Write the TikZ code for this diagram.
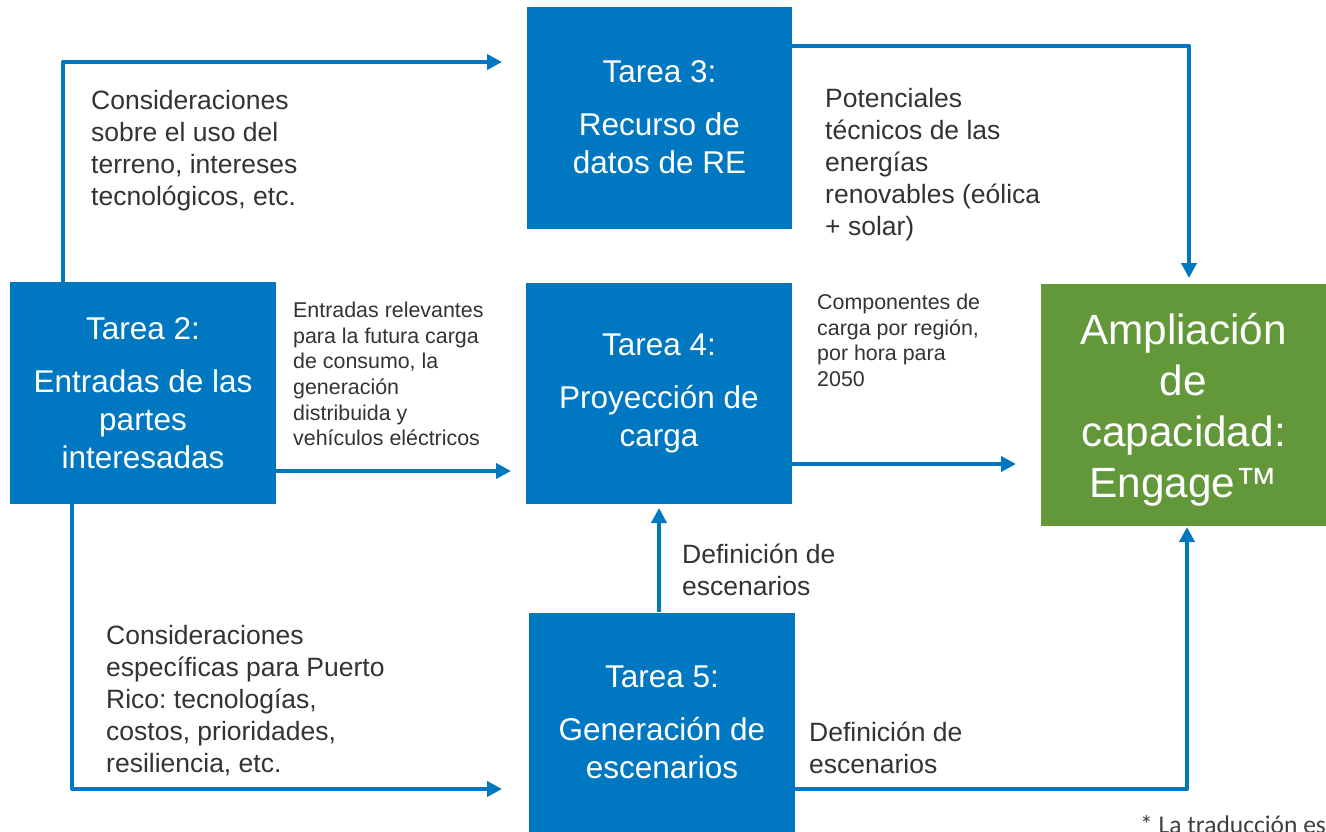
\documentclass[tikz,border=0pt]{standalone}
\usepackage{fontspec}
\setmainfont{Liberation Sans}
\newfontfamily\notefont{Carlito}
\usetikzlibrary{arrows.meta}
\definecolor{taskblue}{HTML}{0078C1}
\definecolor{engreen}{HTML}{62973A}
\definecolor{labelgray}{HTML}{333333}
\definecolor{notegray}{HTML}{404040}
\frenchspacing
\begin{document}
\frenchspacing
\begin{tikzpicture}[x=1pt,y=-1pt,
  taskbox/.style={fill=taskblue, draw=none, text=white, align=center, inner sep=0pt,
    font=\fontsize{31.5}{38}\selectfont},
  engbox/.style={fill=engreen, draw=none, inner sep=0pt},
  engtext/.style={text=white, align=center, inner sep=0pt,
    font=\fontsize{42.3}{51}\selectfont},
  biglabel/.style={anchor=north west, inner sep=0pt, align=left, text=labelgray,
    font=\fontsize{26.5}{32}\selectfont},
  smalllabel/.style={anchor=north west, inner sep=0pt, align=left, text=labelgray,
    font=\fontsize{21.4}{25.6}\selectfont},
  arr/.style={draw=taskblue, line width=4pt, line join=round,
    -{Triangle[length=15pt,width=15pt]}}
]
\clip (0,0) rectangle (1326,831);
\fill[white] (0,0) rectangle (1326,831);

% task boxes
\node[taskbox, minimum width=265pt, minimum height=222pt] (t3) at (659.5,117.5)
  {Tarea 3:\\[15pt]Recurso de\\datos de RE};
\node[taskbox, minimum width=266pt, minimum height=222pt] (t2) at (143,393)
  {Tarea 2:\\[15pt]Entradas de las\\partes\\interesadas};
\node[taskbox, minimum width=266pt, minimum height=221pt] (t4) at (659,393)
  {Tarea 4:\\[15pt]Proyecci\'on de\\carga};
\node[taskbox, minimum width=266pt, minimum height=220pt] (t5) at (662,722.5)
  {Tarea 5:\\[15pt]Generaci\'on de\\escenarios};
\node[engbox, minimum width=285pt, minimum height=242pt] (eng) at (1183.5,405) {};
\node[engtext] (engt) at (1183.5,410) {Ampliaci\'on\\de\\capacidad:\\Engage™};

% coordinates for connector bends and free ends
\coordinate (k1) at (63,62);
\coordinate (e1) at (502,62);
\coordinate (k2) at (1189,46);
\coordinate (e2) at (1189,278);
\coordinate (e3) at (511,471);
\coordinate (e4) at (1016,464);
\coordinate (e5) at (659,508);
\coordinate (k6) at (72,789);
\coordinate (e6) at (502,789);
\coordinate (k7) at (1187,789);
\coordinate (e7) at (1187,527);

% connectors
\draw[arr] (t2.north -| k1) -- (k1) -- (e1);
\draw[arr] (t3.east |- k2) -- (k2) -- (e2);
\draw[arr] (t2.east |- e3) -- (e3);
\draw[arr] (t4.east |- e4) -- (e4);
\draw[arr] (t5.north -| e5) -- (e5);
\draw[arr] (t2.south -| k6) -- (k6) -- (e6);
\draw[arr] (t5.east |- k7) -- (k7) -- (e7);

% labels
\node[biglabel] (l1) at (91,90)
  {Consideraciones\\sobre el uso del\\terreno, intereses\\tecnol\'ogicos, etc.};
\node[biglabel] (l2) at (825,88)
  {Potenciales\\t\'ecnicos de las\\energ\'ias\\renovables (e\'olica\\+ solar)};
\node[smalllabel] (l3) at (293,302)
  {Entradas relevantes\\para la futura carga\\de consumo, la\\generaci\'on\\distribuida y\\veh\'iculos el\'ectricos};
\node[smalllabel] (l4) at (817,294)
  {Componentes de\\carga por regi\'on,\\por hora para\\2050};
\node[biglabel] (l5) at (682,544)
  {Definici\'on de\\escenarios};
\node[biglabel] (l6) at (106,625)
  {Consideraciones\\espec\'ificas para Puerto\\Rico: tecnolog\'ias,\\costos, prioridades,\\resiliencia, etc.};
\node[biglabel] (l7) at (809,722)
  {Definici\'on de\\escenarios};

% footnote
\node[anchor=base west, inner sep=0pt, text=notegray,
  font=\notefont\fontsize{25.5}{30}\selectfont] (note) at (1140,833)
  {* La traducci\'on es};
\end{tikzpicture}
\end{document}
